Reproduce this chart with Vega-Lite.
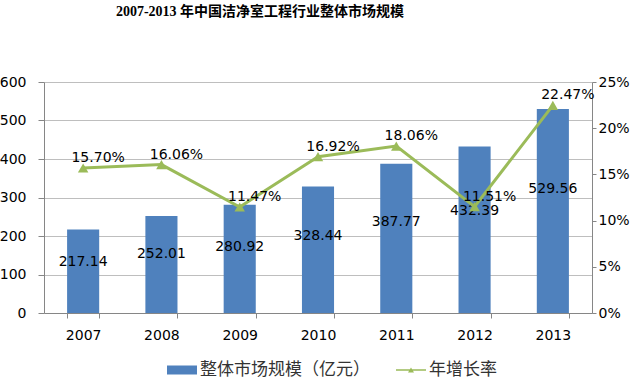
{
  "$schema": "https://vega.github.io/schema/vega-lite/v6.json",
  "autosize": "none",
  "width": 548,
  "height": 231,
  "padding": {"left": 44, "top": 82, "right": 41, "bottom": 68},
  "background": "white",
  "title": {
    "text": "2007-2013 年中国洁净室工程行业整体市场规模",
    "font": "Liberation Serif, Noto Sans CJK SC",
    "fontSize": 14,
    "fontWeight": "bold",
    "color": "#000000",
    "anchor": "middle",
    "dx": -58,
    "offset": 56
  },
  "config": {
    "view": {"stroke": null},
    "axis": {"labelFont": "DejaVu Sans", "labelFontSize": 14, "labelColor": "#000000", "labelOverlap": false},
    "legend": {"padding": 0}
  },
  "data": {
    "values": [
      {"year": "2007", "size": 217.14, "growth": 0.1570, "series": "整体市场规模（亿元）", "series2": "年增长率"},
      {"year": "2008", "size": 252.01, "growth": 0.1606, "series": "整体市场规模（亿元）", "series2": "年增长率"},
      {"year": "2009", "size": 280.92, "growth": 0.1147, "series": "整体市场规模（亿元）", "series2": "年增长率"},
      {"year": "2010", "size": 328.44, "growth": 0.1692, "series": "整体市场规模（亿元）", "series2": "年增长率"},
      {"year": "2011", "size": 387.77, "growth": 0.1806, "series": "整体市场规模（亿元）", "series2": "年增长率"},
      {"year": "2012", "size": 432.39, "growth": 0.1151, "series": "整体市场规模（亿元）", "series2": "年增长率"},
      {"year": "2013", "size": 529.56, "growth": 0.2247, "series": "整体市场规模（亿元）", "series2": "年增长率"}
    ]
  },
  "encoding": {
    "x": {
      "field": "year",
      "type": "nominal",
      "scale": {"paddingInner": 0.59, "paddingOuter": 0.295},
      "axis": {
        "title": null,
        "labelAngle": 0,
        "labelPadding": 10,
        "tickBand": "extent",
        "tickSize": 5,
        "tickColor": "#868686",
        "domainColor": "#868686",
        "grid": false
      }
    }
  },
  "layer": [
    {
      "mark": {"type": "bar", "color": "#4F81BD"},
      "encoding": {
        "y": {
          "field": "size",
          "type": "quantitative",
          "scale": {"domain": [0, 600], "nice": false},
          "axis": {
            "title": null,
            "values": [0, 100, 200, 300, 400, 500, 600],
            "grid": true,
            "gridColor": "#BEBEBE",
            "domainColor": "#868686",
            "tickColor": "#868686",
            "tickSize": 6,
            "labelPadding": 12
          }
        },
        "fill": {
          "field": "series",
          "type": "nominal",
          "scale": {"range": ["#4F81BD"]},
          "legend": {
            "title": null,
            "orient": "none",
            "legendX": 128,
            "legendY": 278,
            "symbolType": "M-1.5,-0.45H1.5V0.45H-1.5Z",
            "symbolSize": 400,
            "symbolStrokeWidth": 0,
            "labelFont": "Noto Sans CJK SC",
            "labelFontSize": 17,
            "labelColor": "#333333",
            "labelOffset": 8,
            "labelLimit": 400
          }
        }
      }
    },
    {
      "mark": {"type": "text", "font": "DejaVu Sans", "fontSize": 14, "color": "#000000", "baseline": "middle"},
      "encoding": {
        "y": {"field": "size", "type": "quantitative", "scale": {"domain": [0, 983], "nice": false}, "axis": null},
        "text": {"field": "size", "type": "quantitative", "format": ".2f"}
      }
    },
    {
      "mark": {"type": "line", "color": "#9BBB59", "strokeWidth": 3},
      "encoding": {
        "y": {
          "field": "growth",
          "type": "quantitative",
          "scale": {"domain": [0, 0.25], "nice": false},
          "axis": {
            "title": null,
            "orient": "right",
            "format": ".0%",
            "values": [0, 0.05, 0.1, 0.15, 0.2, 0.25],
            "grid": false,
            "domainColor": "#868686",
            "tickColor": "#868686",
            "tickSize": 4,
            "labelPadding": 2
          }
        },
        "stroke": {
          "field": "series2",
          "type": "nominal",
          "scale": {"range": ["#9BBB59"]},
          "legend": {
            "title": null,
            "orient": "none",
            "legendX": 357,
            "legendY": 278,
            "symbolType": "M-1.5,-0.07H1.5V0.07H-1.5Z M-0.3,0.25L0,-0.25L0.3,0.25Z",
            "symbolSize": 400,
            "symbolFillColor": "#9BBB59",
            "symbolStrokeWidth": 0,
            "labelFont": "Noto Sans CJK SC",
            "labelFontSize": 17,
            "labelColor": "#333333",
            "labelOffset": 8,
            "labelLimit": 400
          }
        }
      }
    },
    {
      "mark": {"type": "point", "shape": "triangle-up", "filled": true, "size": 110, "color": "#9BBB59", "opacity": 1},
      "encoding": {
        "y": {"field": "growth", "type": "quantitative", "scale": {"domain": [0, 0.25], "nice": false}, "axis": null}
      }
    },
    {
      "mark": {"type": "text", "font": "DejaVu Sans", "fontSize": 14, "color": "#000000", "baseline": "middle", "dx": 15, "dy": -10},
      "encoding": {
        "y": {"field": "growth", "type": "quantitative", "scale": {"domain": [0, 0.25], "nice": false}, "axis": null},
        "text": {"field": "growth", "type": "quantitative", "format": ".2%"}
      }
    }
  ],
  "resolve": {"scale": {"y": "independent"}}
}
